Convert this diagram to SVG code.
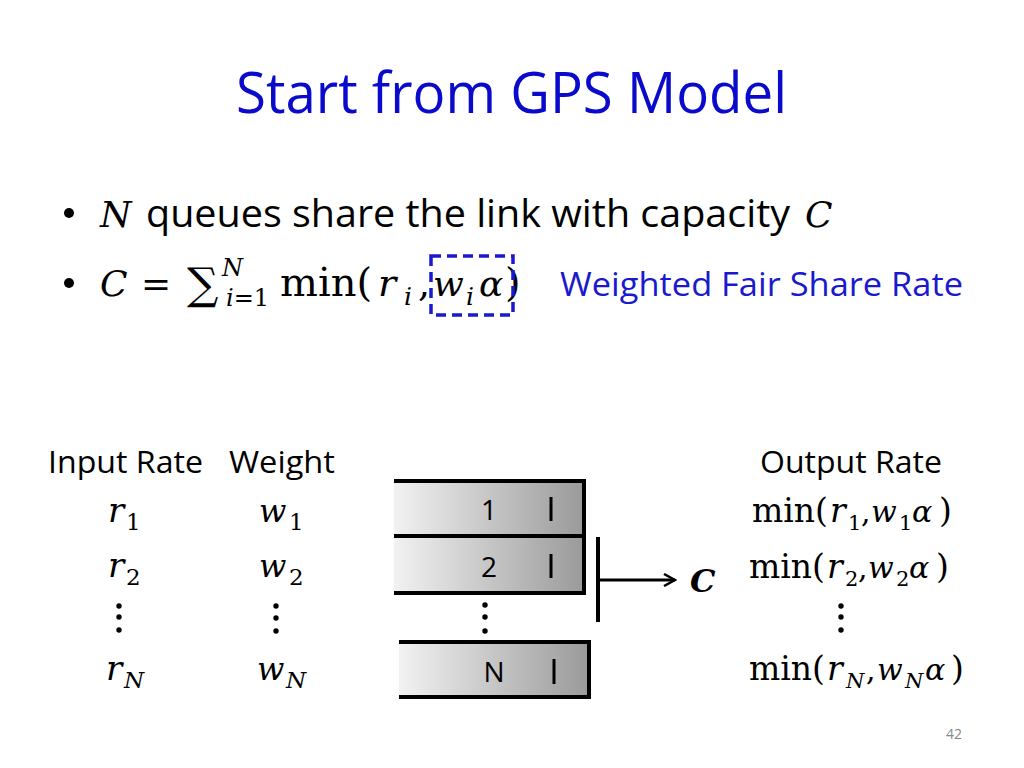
<svg xmlns="http://www.w3.org/2000/svg" width="1024" height="768" viewBox="0 0 1024 768">
<style>
.sans{font-family:"Open Sans","Liberation Sans",sans-serif;fill:#000}
.m{font-family:"DejaVu Serif","Liberation Serif",serif;fill:#000}
.i{font-style:italic}
.qlabel{font-family:"Open Sans","Liberation Sans",sans-serif;font-size:28px;fill:#000}
.edge{stroke:#000;stroke-width:4;fill:none}
.dot{fill:#000}
</style>
<defs>
<linearGradient id="qg" x1="0" y1="0" x2="1" y2="0">
<stop offset="0" stop-color="#f2f2f2"/>
<stop offset="1" stop-color="#9a9a9a"/>
</linearGradient>
<marker id="ah" viewBox="0 0 14 14" refX="12" refY="7" markerWidth="14" markerHeight="14" markerUnits="userSpaceOnUse" orient="auto">
<path d="M1,1 L12,7 L1,13" fill="none" stroke="#000" stroke-width="2.5"/>
</marker>
</defs>
<rect width="1024" height="768" fill="#fff"/>
<text x="236" y="113" font-family="Open Sans, Liberation Sans, sans-serif" font-size="56" fill="#0a0acc" textLength="551" lengthAdjust="spacingAndGlyphs">Start from GPS Model</text>

<g id="bullet1">
<circle class="dot" cx="69" cy="213" r="5"/>
<text x="100" y="227" class="m i" font-size="36">N</text>
<text x="146" y="227" class="sans" font-size="38" textLength="644" lengthAdjust="spacingAndGlyphs">queues share the link with capacity</text>
<text x="805" y="227" class="m i" font-size="36">C</text>
</g>

<g id="bullet2">
<circle class="dot" cx="69" cy="283" r="5"/>
<text x="100" y="296" class="m i" font-size="36">C</text>
<text x="141" y="296" class="m" font-size="36">=</text>
<text x="187" y="299" class="m" font-size="44">∑</text>
<text x="222" y="276" class="m i" font-size="24">N</text>
<text x="226" y="306" class="m" font-size="24"><tspan font-style="italic">i</tspan>=1</text>
<text x="280" y="296" class="m" font-size="40">min(</text>
<text x="378" y="296" class="m i" font-size="38">r</text>
<text x="404" y="305" class="m i" font-size="25">i</text>
<text x="418" y="296" class="m" font-size="38">,</text>
<text x="433" y="296" class="m i" font-size="36">w</text>
<text x="466" y="305" class="m i" font-size="25">i</text>
<text x="479" y="296" class="m i" font-size="36">α</text>
<text x="505" y="296" class="m" font-size="40">)</text>
<rect id="dashbox" x="431" y="256" width="82" height="59" fill="none" stroke="#1a1acc" stroke-width="3.5" stroke-dasharray="10,6"/>
<text x="560" y="296" font-family="Open Sans, Liberation Sans, sans-serif" font-size="32" fill="#1a1acc" textLength="403" lengthAdjust="spacingAndGlyphs">Weighted Fair Share Rate</text>
</g>

<g id="inputs">
<text x="48" y="473" class="sans" font-size="31" textLength="155" lengthAdjust="spacingAndGlyphs">Input Rate</text>
<text x="108" y="522" class="m i" font-size="34">r</text><text x="126" y="530" class="m" font-size="23">1</text>
<text x="108" y="577" class="m i" font-size="34">r</text><text x="126" y="585" class="m" font-size="23">2</text>
<circle class="dot" cx="119" cy="606" r="2.7"/><circle class="dot" cx="119" cy="617" r="2.7"/><circle class="dot" cx="119" cy="630" r="2.7"/>
<text x="106" y="680" class="m i" font-size="34">r</text><text x="124" y="688" class="m i" font-size="23">N</text>
</g>

<g id="weights">
<text x="229" y="473" class="sans" font-size="31" textLength="106" lengthAdjust="spacingAndGlyphs">Weight</text>
<text x="259" y="522" class="m i" font-size="32">w</text><text x="289" y="530" class="m" font-size="23">1</text>
<text x="259" y="577" class="m i" font-size="32">w</text><text x="289" y="585" class="m" font-size="23">2</text>
<circle class="dot" cx="276" cy="606" r="2.7"/><circle class="dot" cx="276" cy="618" r="2.7"/><circle class="dot" cx="276" cy="631" r="2.7"/>
<text x="257" y="680" class="m i" font-size="32">w</text><text x="286" y="688" class="m i" font-size="23">N</text>
</g>

<g id="queue1">
<rect x="394" y="481" width="190" height="55" fill="url(#qg)"/>
<path class="edge" d="M394,481 H584 V536 H394"/>
<text x="489" y="520" text-anchor="middle" class="qlabel">1</text>
<line x1="551" y1="497" x2="551" y2="521" stroke="#000" stroke-width="3"/>
</g>
<g id="queue2">
<rect x="394" y="536" width="190" height="57" fill="url(#qg)"/>
<path class="edge" d="M394,536 H584 V593 H394"/>
<text x="489" y="577" text-anchor="middle" class="qlabel">2</text>
<line x1="551" y1="554" x2="551" y2="578" stroke="#000" stroke-width="3"/>
</g>
<circle class="dot" cx="485" cy="605" r="2.7"/><circle class="dot" cx="485" cy="617" r="2.7"/><circle class="dot" cx="485" cy="631" r="2.7"/>
<g id="queueN">
<rect x="399" y="642" width="190" height="55" fill="url(#qg)"/>
<path class="edge" d="M399,642 H589 V697 H399"/>
<text x="494" y="682" text-anchor="middle" class="qlabel">N</text>
<line x1="554" y1="659" x2="554" y2="684" stroke="#000" stroke-width="3"/>
</g>

<g id="connectors">
<line x1="598" y1="537" x2="598" y2="622" stroke="#000" stroke-width="4"/>
<line x1="598" y1="580" x2="675" y2="580" stroke="#000" stroke-width="3" marker-end="url(#ah)"/>
</g>
<text id="capC" x="690" y="592" class="m i" font-size="32" font-weight="bold">C</text>

<g id="outputs">
<text x="760" y="473" class="sans" font-size="31" textLength="182" lengthAdjust="spacingAndGlyphs">Output Rate</text>

<text x="752" y="522" class="m" font-size="33">min(</text>
<text x="830" y="522" class="m i" font-size="33">r</text>
<text x="848" y="530" class="m" font-size="21">1</text>
<text x="861" y="522" class="m" font-size="30">,</text>
<text x="871" y="522" class="m i" font-size="30">w</text>
<text x="899" y="530" class="m" font-size="21">1</text>
<text x="912" y="522" class="m i" font-size="30">α</text>
<text x="939" y="522" class="m" font-size="33">)</text>

<text x="749" y="578" class="m" font-size="33">min(</text>
<text x="827" y="578" class="m i" font-size="33">r</text>
<text x="845" y="586" class="m" font-size="21">2</text>
<text x="858" y="578" class="m" font-size="30">,</text>
<text x="868" y="578" class="m i" font-size="30">w</text>
<text x="896" y="586" class="m" font-size="21">2</text>
<text x="909" y="578" class="m i" font-size="30">α</text>
<text x="936" y="578" class="m" font-size="33">)</text>
<circle class="dot" cx="841" cy="606" r="2.7"/><circle class="dot" cx="841" cy="617" r="2.7"/><circle class="dot" cx="841" cy="630" r="2.7"/>

<text x="749" y="680" class="m" font-size="33">min(</text>
<text x="827" y="680" class="m i" font-size="33">r</text>
<text x="846" y="688" class="m i" font-size="21">N</text>
<text x="866" y="680" class="m" font-size="30">,</text>
<text x="877" y="680" class="m i" font-size="30">w</text>
<text x="905" y="688" class="m i" font-size="21">N</text>
<text x="925" y="680" class="m i" font-size="30">α</text>
<text x="951" y="680" class="m" font-size="33">)</text>
</g>

<text x="962" y="739" text-anchor="end" font-family="Open Sans, Liberation Sans, sans-serif" font-size="14" fill="#888">42</text>
</svg>
